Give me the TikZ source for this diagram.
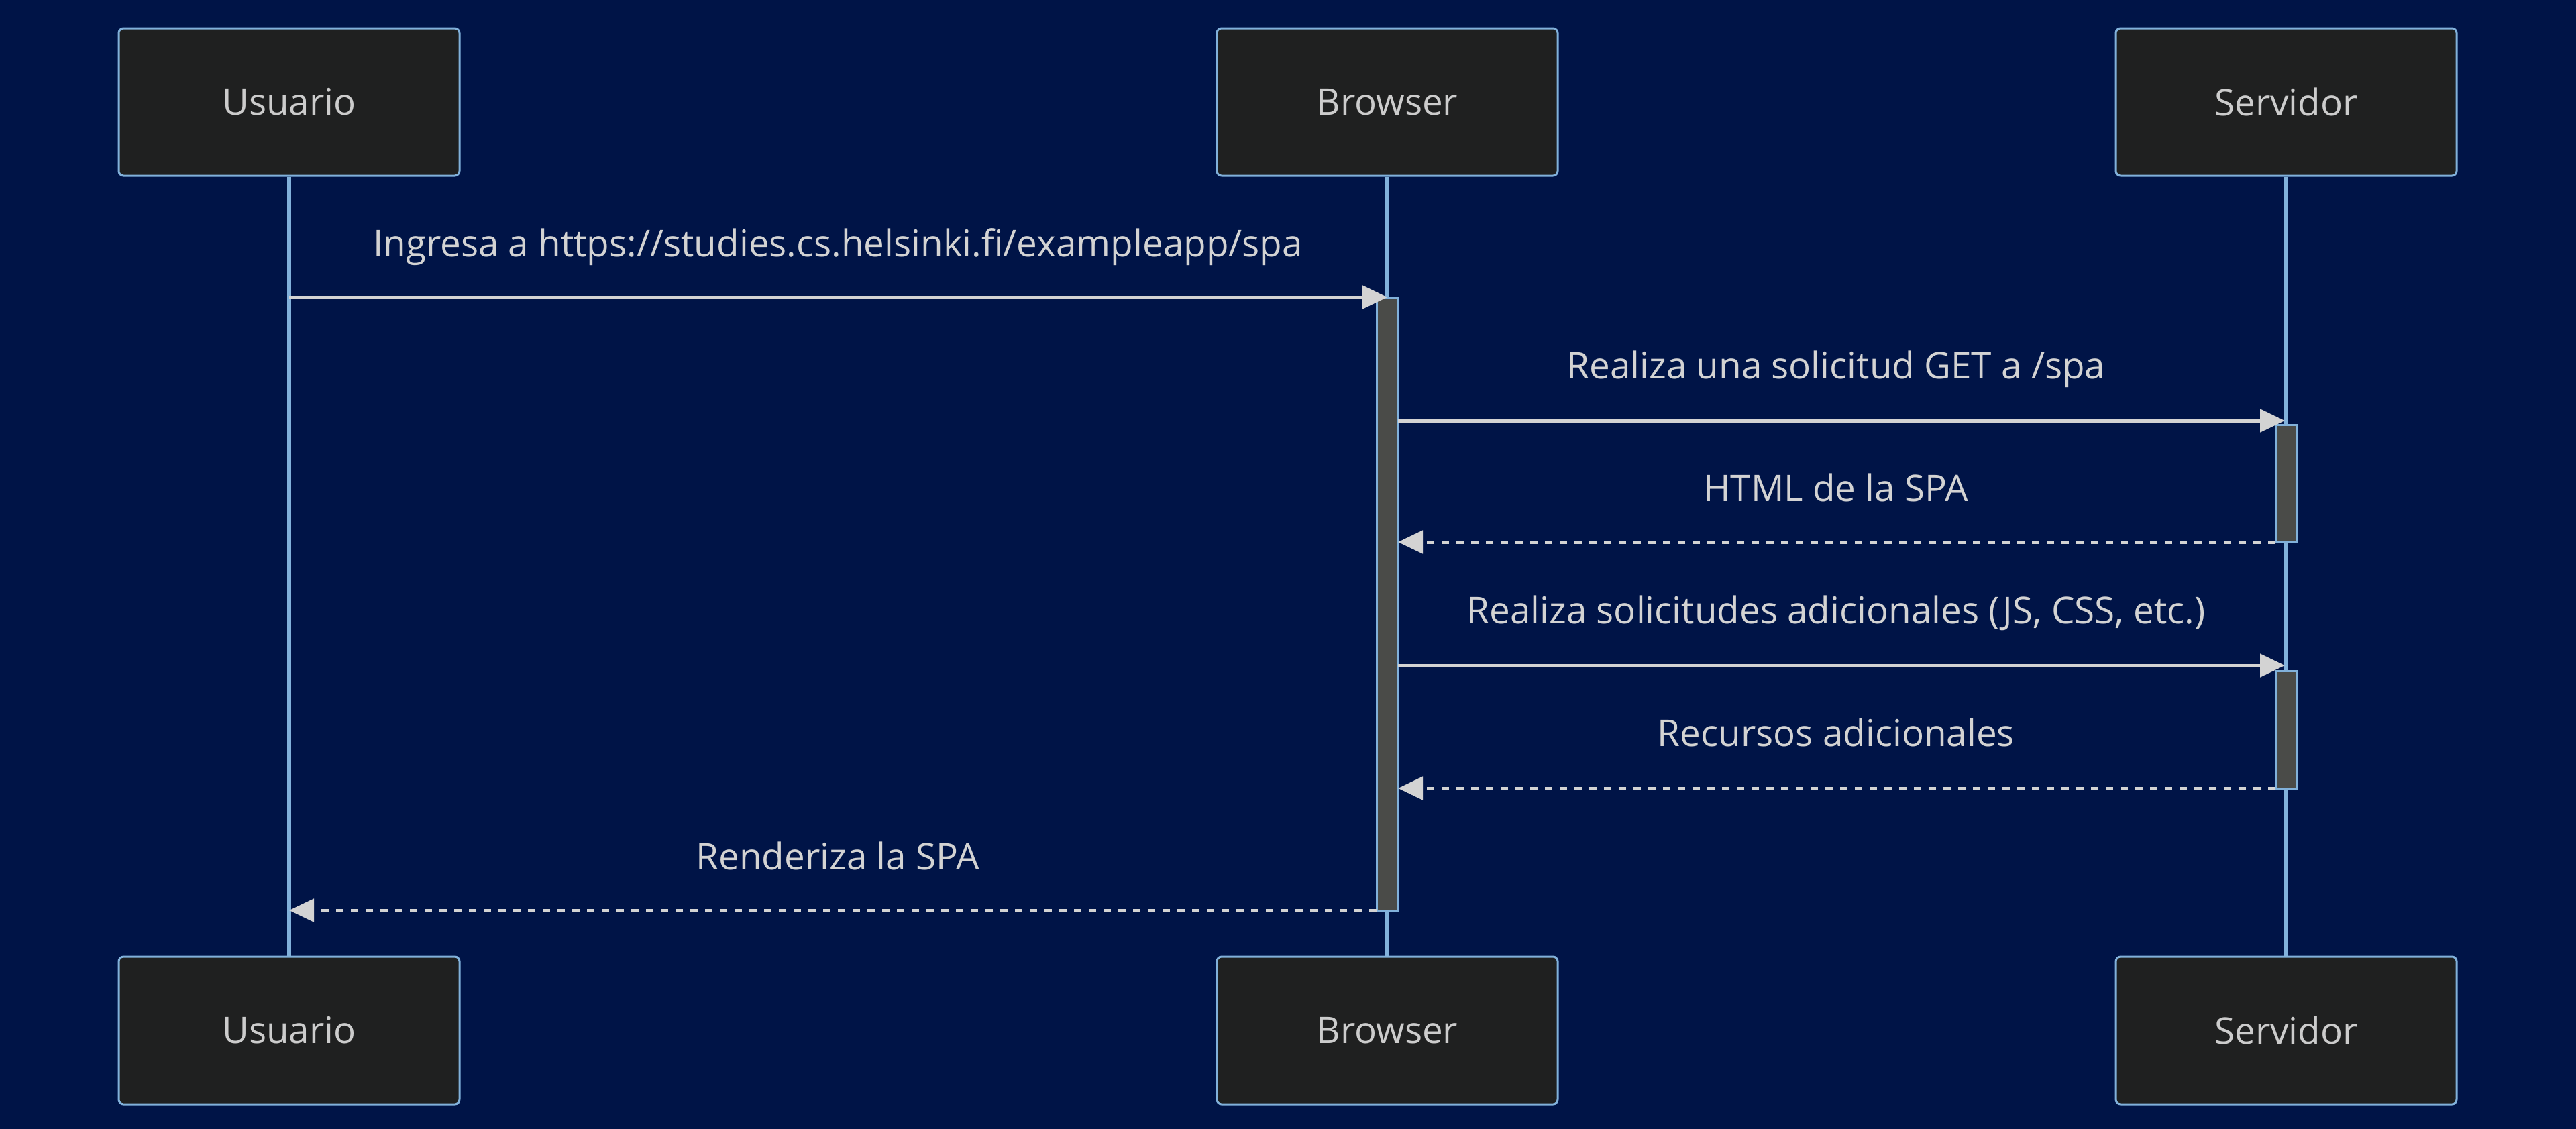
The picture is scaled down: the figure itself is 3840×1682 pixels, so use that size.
\documentclass[tikz,border=0pt]{standalone}
\usepackage{fontspec}
\setmainfont{Open Sans}
\usetikzlibrary{arrows.meta}
\definecolor{bg}{HTML}{001447}
\definecolor{boxfill}{HTML}{1F2020}
\definecolor{boxline}{HTML}{81B1DB}
\definecolor{barfill}{HTML}{4A4B48}
\definecolor{msgcol}{HTML}{D3D3D3}
\definecolor{txtcol}{HTML}{CCCCCC}
\tikzset{
  actor/.style={draw=boxline, fill=boxfill, line width=0.75pt, rounded corners=1.75pt,
    minimum width=127pt, minimum height=55pt, inner sep=0pt, text=txtcol,
    font=\fontsize{13.7}{16}\selectfont},
  life/.style={draw=boxline, line width=1.5pt},
  actbar/.style={draw=boxline, fill=barfill, line width=0.75pt, minimum width=8pt, inner sep=0pt, anchor=north},
  msg/.style={draw=msgcol, line width=1.25pt, -{Triangle[length=9.25pt,width=8.5pt,fill=msgcol]}},
  reply/.style={msg, dash pattern=on 2.75pt off 2.75pt},
  lbl/.style={text=msgcol, anchor=base, inner sep=0pt, font=\fontsize{13.7}{16}\selectfont}
}
\begin{document}
\begin{tikzpicture}[x=0.25pt,y=-0.25pt]
\useasboundingbox (0,0) rectangle (3840,1682);
\fill[bg] (-20,-20) rectangle (3860,1702);

% actors
\node[actor] (u1) at (431,152) {\raisebox{-1.1pt}{Usuario}};
\node[actor] (b1) at (2068,152) {\raisebox{-1.1pt}{Browser}};
\node[actor] (s1) at (3408,152) {\raisebox{-1.1pt}{Servidor}};
\node[actor] (u2) at (431,1536) {\raisebox{-1.1pt}{Usuario}};
\node[actor] (b2) at (2068,1536) {\raisebox{-1.1pt}{Browser}};
\node[actor] (s2) at (3408,1536) {\raisebox{-1.1pt}{Servidor}};

% lifelines
\draw[life] (u1.south) -- (u2.north);
\draw[life] (b1.south) -- (b2.north);
\draw[life] (s1.south) -- (s2.north);

% activation bars
\node[actbar, minimum height=228.5pt] (ab) at (2068,443) {};
\node[actbar, minimum height=43.5pt] (as1) at (3408,632) {};
\node[actbar, minimum height=44pt] (as2) at (3408,999) {};

% message end points
\coordinate (m1a) at (431,443);
\coordinate (m2a) at (2084,627);
\coordinate (m2b) at (3406,627);
\coordinate (m3a) at (3392,808);
\coordinate (m3b) at (2084,808);
\coordinate (m4a) at (2084,992);
\coordinate (m4b) at (3406,992);
\coordinate (m5a) at (3392,1175);
\coordinate (m5b) at (2084,1175);
\coordinate (m6a) at (2052,1357);
\coordinate (m6b) at (431,1357);

% messages
\draw[msg] (m1a) -- (ab.north);
\draw[msg] (m2a) -- (m2b);
\draw[reply] (m3a) -- (m3b);
\draw[msg] (m4a) -- (m4b);
\draw[reply] (m5a) -- (m5b);
\draw[reply] (m6a) -- (m6b);

% labels
\node[lbl] (t1) at (1249,382) {Ingresa a https://studies.cs.helsinki.fi/exampleapp/spa};
\node[lbl] (t2) at (2737,564) {Realiza una solicitud GET a /spa};
\node[lbl] (t3) at (2737,747) {HTML de la SPA};
\node[lbl] (t4) at (2737,929) {Realiza solicitudes adicionales (JS, CSS, etc.)};
\node[lbl] (t5) at (2737,1112) {Recursos adicionales};
\node[lbl] (t6) at (1249,1296) {Renderiza la SPA};
\end{tikzpicture}
\end{document}
